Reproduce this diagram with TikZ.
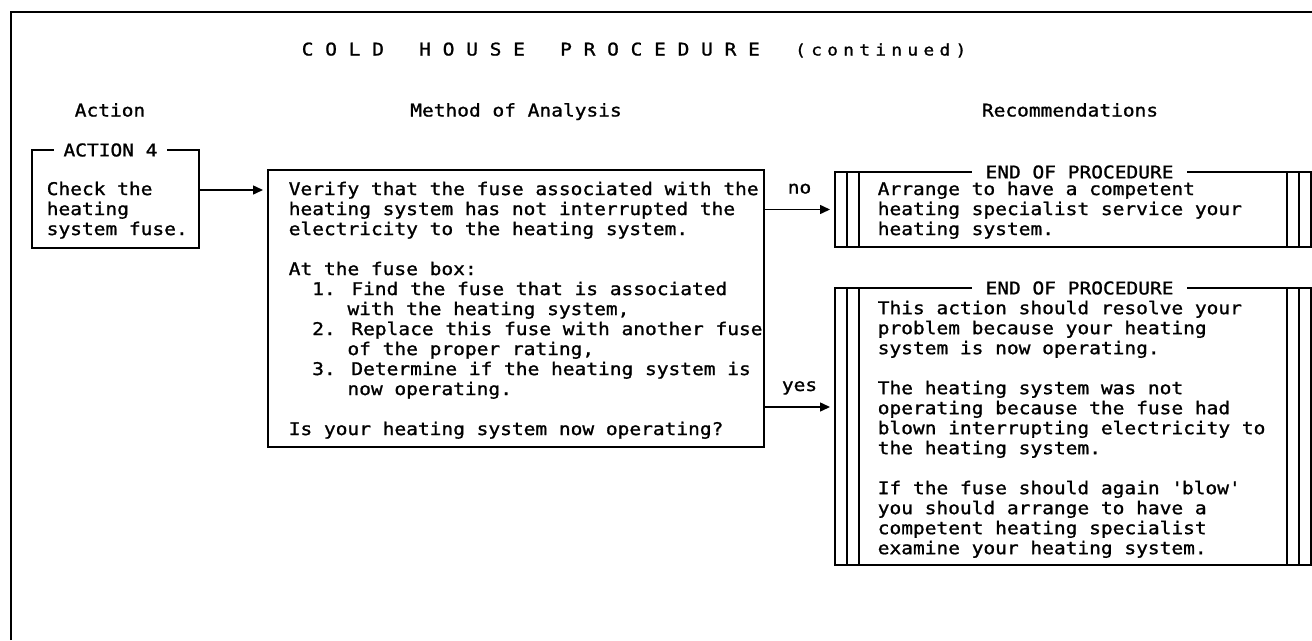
\documentclass[tikz,border=0pt]{standalone}
\usepackage{fontspec}
\usepackage{tikz}
\usetikzlibrary{positioning,arrows.meta,calc}
\newfontfamily\printfont[FakeStretch=1.115,FakeBold=1.2]{DejaVu Sans Mono}
\newcommand{\bodysize}{\fontsize{17.5}{20}\selectfont}
\newcommand{\gap}{\hspace{5.3pt}}

\begin{document}
\begin{tikzpicture}[x=1pt,y=1pt,>={Triangle[length=10pt,width=9pt]},line width=1.5pt,font=\printfont\bodysize]
  \tikzstyle{box}=[draw,rectangle,inner sep=0pt,outer sep=0pt,anchor=north west]
  \tikzstyle{txt}=[align=left,inner sep=0pt,anchor=north west]
  \tikzstyle{boxtitle}=[fill=white,inner ysep=1pt,inner xsep=10pt]
  \tikzstyle{hdr}=[inner sep=0pt,anchor=base]
  \tikzstyle{flow}=[->,shorten >=5pt]
  \tikzstyle{answer}=[inner sep=0pt,anchor=base,yshift=16pt]

  \useasboundingbox (0,0) rectangle (1312,-640);
  % page frame, open at right and bottom
  \draw (11,-640) -- (11,-12) -- (1312,-12);

  \node[hdr,anchor=base west] (title) at (301,-55.5) {C O L D~~~H O U S E~~~P R O C E D U R E~~~{\fontsize{16}{18}\selectfont(\gap c\gap o\gap n\gap t\gap i\gap n\gap u\gap e\gap d\gap )}};

  % column heads
  \node[hdr] (hdact) at (110,-116.5) {Action};
  \node[hdr] (hdmeth) at (516,-116.5) {Method of Analysis};
  \node[hdr] (hdrec) at (1070,-116.5) {Recommendations};

  % boxes
  \node[box,minimum width=167pt,minimum height=98pt] (actbox) at (32,-150) {};
  \node[box,minimum width=496pt,minimum height=277pt] (methbox) at (268,-170) {};
  \node[box,minimum width=476pt,minimum height=75pt] (endA) at (835,-172) {};
  \node[box,minimum width=476pt,minimum height=277pt] (endB) at (835,-288) {};

  \node[boxtitle] (acttitle) at ([xshift=-5pt]actbox.north) {ACTION 4};
  \foreach \b in {endA,endB} {
    \node[boxtitle,inner xsep=14pt] (\b-t) at ([xshift=6.5pt]\b.north) {END OF PROCEDURE};
    \foreach \d in {12,24} {
      \draw ([xshift=\d pt]\b.north west) -- ([xshift=\d pt]\b.south west);
      \draw ([xshift=-\d pt]\b.north east) -- ([xshift=-\d pt]\b.south east);
    }
  }

  % box texts
  \node[txt] (acttxt) at ([xshift=14pt,yshift=-31pt]actbox.north west) {Check the\\heating\\system fuse.};
  \node[txt] (methtxt) at ([xshift=20pt,yshift=-11pt]methbox.north west) {Verify that the fuse associated with the\\
    heating system has not interrupted the\\
    electricity to the heating system.\\[20pt]
    At the fuse box:\\
    ~~1. Find the fuse that is associated\\
    ~~~~~with the heating system,\\
    ~~2. Replace this fuse with another fuse\\
    ~~~~~of the proper rating,\\
    ~~3. Determine if the heating system is\\
    ~~~~~now operating.\\[20pt]
    Is your heating system now operating?};
  \node[txt] (endAtxt) at ([xshift=42pt,yshift=-9pt]endA.north west) {Arrange to have a competent\\
    heating specialist service your\\
    heating system.};
  \node[txt] (endBtxt) at ([xshift=42pt,yshift=-12pt]endB.north west) {This action should resolve your\\
    problem because your heating\\
    system is now operating.\\[20pt]
    The heating system was not\\
    operating because the fuse had\\
    blown interrupting electricity to\\
    the heating system.\\[20pt]
    If the fuse should again \textquotesingle blow\textquotesingle\\
    you should arrange to have a\\
    competent heating specialist\\
    examine your heating system.};

  % flow
  \coordinate (a1) at ([yshift=9pt]actbox.east);
  \draw[flow] (a1) -- (a1 -| methbox.west);
  \draw[flow] (endA.west -| methbox.east) -- node[answer] {no} (endA.west);
  \coordinate (a3) at ([yshift=19.5pt]endB.west);
  \draw[flow] (a3 -| methbox.east) -- node[answer] {yes} (a3);
\end{tikzpicture}
\end{document}
